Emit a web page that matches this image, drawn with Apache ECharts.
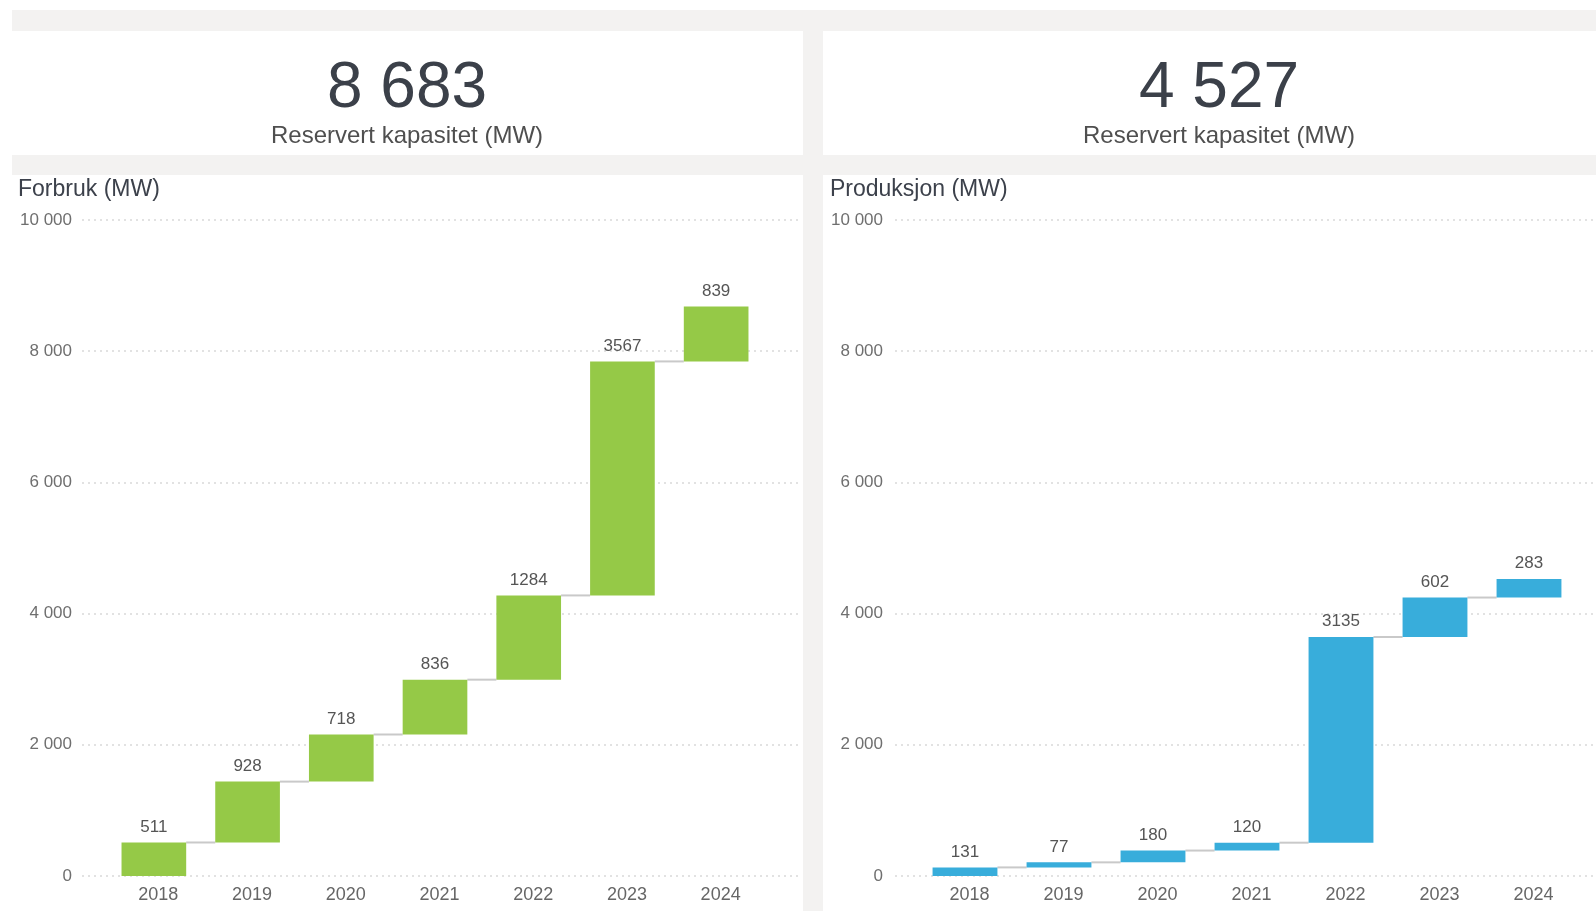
<!DOCTYPE html>
<html>
<head>
<meta charset="utf-8">
<title>Reservert kapasitet</title>
<script src="https://cdn.jsdelivr.net/npm/echarts@6/dist/echarts.min.js"></script>
<style>
  html, body { margin: 0; padding: 0; background: #ffffff; }
  #chart { width: 1596px; height: 911px; }
</style>
</head>
<body>
<div id="chart"></div>
<script>
// data
const years = ['2018', '2019', '2020', '2021', '2022', '2023', '2024']
const forbruk = [511, 928, 718, 836, 1284, 3567, 839]
const produksjon = [131, 77, 180, 120, 3135, 602, 283]
const totals = ['8 683', '4 527']
const panelTitles = ['Forbruk (MW)', 'Produksjon (MW)']
const cardLabel = 'Reservert kapasitet (MW)'
const yTicks = [0, 2000, 4000, 6000, 8000, 10000]

const FONT = '"Liberation Sans", Arial, sans-serif'
const GREEN = '#95c947'
const BLUE = '#38addb'

// start / end of each step in the waterfall
const steps = values => {
  let acc = 0
  return values.map((v, i) => {
    const row = [i, acc, acc + v, v]
    acc += v
    return row
  })
}

const fmt = v => String(v).replace(/\B(?=(\d{3})+(?!\d))/g, ' ')

const makeRender = (color, count) => (params, api) => {
  const i = api.value(0)
  const p0 = api.coord([i, api.value(1)])
  const p1 = api.coord([i, api.value(2)])
  const band = api.size([1, 0])[0]
  const w = band * 0.69
  const children = []
  if (i < count - 1) {
    children.push({
      type: 'line',
      shape: { x1: p0[0] + w / 2, y1: p1[1], x2: p0[0] + band - w / 2, y2: p1[1] },
      style: { stroke: '#c9c9c9', lineWidth: 2 }
    })
  }
  children.push({
    type: 'rect',
    shape: { x: p0[0] - w / 2, y: p1[1], width: w, height: p0[1] - p1[1] },
    style: { fill: color }
  })
  children.push({
    type: 'text',
    x: p0[0],
    y: p1[1] - 7,
    style: {
      text: String(api.value(3)),
      align: 'center',
      verticalAlign: 'bottom',
      fill: '#555555',
      font: '17px ' + FONT
    }
  })
  return { type: 'group', children }
}

const chart = echarts.init(document.getElementById('chart'))

const yBase = {
  type: 'value',
  min: 0,
  max: 10000,
  interval: 2000
}

const option = {
  animation: false,
  graphic: [
    // page and cards
    { type: 'rect', z: -100, shape: { x: 12, y: 10, width: 1584, height: 901 }, style: { fill: '#f3f2f1' } },
    { type: 'rect', z: -99, shape: { x: 12, y: 31, width: 791, height: 124 }, style: { fill: '#ffffff' } },
    { type: 'rect', z: -99, shape: { x: 823, y: 31, width: 800, height: 124 }, style: { fill: '#ffffff' } },
    { type: 'rect', z: -99, shape: { x: 12, y: 175, width: 791, height: 736 }, style: { fill: '#ffffff' } },
    { type: 'rect', z: -99, shape: { x: 823, y: 175, width: 800, height: 736 }, style: { fill: '#ffffff' } },
    // card texts
    { type: 'text', x: 407, y: 89, style: { text: totals[0], align: 'center', verticalAlign: 'middle', fill: '#3b4049', font: '64px ' + FONT } },
    { type: 'text', x: 407, y: 136, style: { text: cardLabel, align: 'center', verticalAlign: 'middle', fill: '#4f4f4f', font: '24px ' + FONT } },
    { type: 'text', x: 1219, y: 89, style: { text: totals[1], align: 'center', verticalAlign: 'middle', fill: '#3b4049', font: '64px ' + FONT } },
    { type: 'text', x: 1219, y: 136, style: { text: cardLabel, align: 'center', verticalAlign: 'middle', fill: '#4f4f4f', font: '24px ' + FONT } },
    { type: 'text', x: 18, y: 190, style: { text: panelTitles[0], align: 'left', verticalAlign: 'middle', fill: '#3c414b', font: '23px ' + FONT } },
    { type: 'text', x: 830, y: 190, style: { text: panelTitles[1], align: 'left', verticalAlign: 'middle', fill: '#3c414b', font: '23px ' + FONT } }
  ],
  grid: [
    { left: 82, top: 220, width: 717, height: 656 },
    { left: 107, top: 220, width: 656, height: 656 },
    { left: 895, top: 220, width: 716, height: 656 },
    { left: 918, top: 220, width: 658, height: 656 }
  ],
  xAxis: [
    { gridIndex: 0, type: 'value', show: false, min: 0, max: 1 },
    {
      gridIndex: 1, type: 'category', data: years,
      axisLine: { show: false }, axisTick: { show: false },
      axisLabel: { color: '#666666', fontSize: 18, fontFamily: FONT, margin: 10, padding: [0, 0, 0, 9] }
    },
    { gridIndex: 2, type: 'value', show: false, min: 0, max: 1 },
    {
      gridIndex: 3, type: 'category', data: years,
      axisLine: { show: false }, axisTick: { show: false },
      axisLabel: { color: '#666666', fontSize: 18, fontFamily: FONT, margin: 10, padding: [0, 0, 0, 9] }
    }
  ],
  yAxis: [
    {
      ...yBase, gridIndex: 0,
      axisLine: { show: false }, axisTick: { show: false },
      axisLabel: { color: '#6f6f6f', fontSize: 17, fontFamily: FONT, margin: 10, formatter: v => yTicks.includes(v) ? fmt(v) : '' },
      splitLine: { lineStyle: { color: '#e2e2e2', width: 2, type: [2, 4] } }
    },
    { ...yBase, gridIndex: 1, show: false, splitLine: { show: false } },
    {
      ...yBase, gridIndex: 2,
      axisLine: { show: false }, axisTick: { show: false },
      axisLabel: { color: '#6f6f6f', fontSize: 17, fontFamily: FONT, margin: 12, formatter: v => yTicks.includes(v) ? fmt(v) : '' },
      splitLine: { lineStyle: { color: '#e2e2e2', width: 2, type: [2, 4] } }
    },
    { ...yBase, gridIndex: 3, show: false, splitLine: { show: false } }
  ],
  series: [
    {
      name: 'Forbruk',
      type: 'custom',
      xAxisIndex: 1,
      yAxisIndex: 1,
      data: steps(forbruk),
      encode: { x: 0, y: [1, 2] },
      renderItem: makeRender(GREEN, forbruk.length)
    },
    {
      name: 'Produksjon',
      type: 'custom',
      xAxisIndex: 3,
      yAxisIndex: 3,
      data: steps(produksjon),
      encode: { x: 0, y: [1, 2] },
      renderItem: makeRender(BLUE, produksjon.length)
    }
  ]
}

chart.setOption(option)
</script>
</body>
</html>
